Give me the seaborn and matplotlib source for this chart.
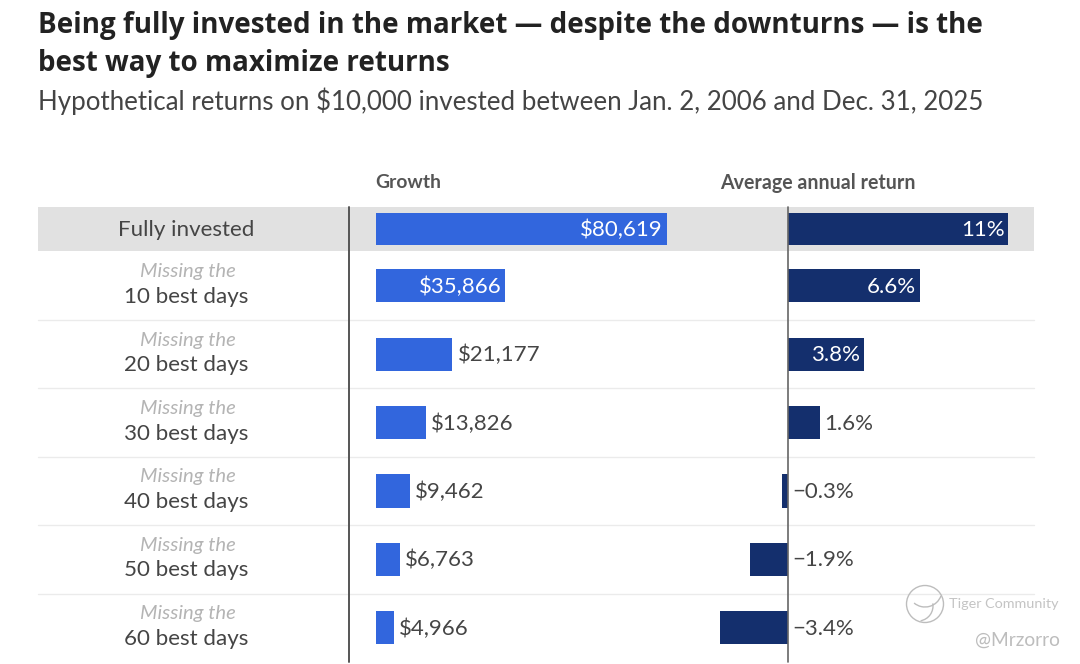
import matplotlib
matplotlib.use("Agg")
import matplotlib.pyplot as plt
from matplotlib.patches import Circle, Arc
import pandas as pd
import seaborn as sns

TITLE = ["Being fully invested in the market — despite the downturns — is the",
         "best way to maximize returns"]
SUBTITLE = "Hypothetical returns on $10,000 invested between Jan. 2, 2006 and Dec. 31, 2025"
HEAD_GROWTH = "Growth"
HEAD_RETURN = "Average annual return"
TOP_LABEL = "Fully invested"
MISSING = "Missing the"
days = ["10 best days", "20 best days", "30 best days", "40 best days", "50 best days", "60 best days"]
growth_all = 80619
returns_all = 11
growth = [35866, 21177, 13826, 9462, 6763, 4966]
returns = [6.6, 3.8, 1.6, -0.3, -1.9, -3.4]
return_labels_all = "11%"
return_labels = ["6.6%", "3.8%", "1.6%", "−0.3%", "−1.9%", "−3.4%"]

W, H = 1080, 664
BLUE, NAVY = "#3266DD", "#142F6D"
INK, SOFT = "#454545", "#B4B4B4"
FONT = "Lato"
sns.set_theme(style="white")
plt.rcParams["font.family"] = [FONT, "DejaVu Sans"]

fig = plt.figure(figsize=(W / 100, H / 100), dpi=100, facecolor="white")


def axes_px(x0, x1, y0, y1, **kw):
    return fig.add_axes([x0 / W, 1 - y1 / H, (x1 - x0) / W, (y1 - y0) / H], **kw)


bg = axes_px(0, W, 0, H)
bg.set_xlim(0, W)
bg.set_ylim(H, 0)
bg.axis("off")

bg.text(38, 26, TITLE[0], fontsize=19.95, fontweight="bold", family="Open Sans", color="#222222", va="center")
bg.text(38, 64, TITLE[1], fontsize=19.95, fontweight="bold", family="Open Sans", color="#222222", va="center")
bg.text(38, 101, SUBTITLE, fontsize=18.6, color="#444444", va="center")
bg.text(375, 183, HEAD_GROWTH, fontsize=13.9, fontweight="bold", color="#555555", va="center")
bg.text(720, 183, HEAD_RETURN, fontsize=14.1, fontweight="bold", color="#555555", va="center")

bg.fill_between([38, 1034], 207, 251, color="#E1E1E1", lw=0, zorder=0)
rest_top, rest_bot = 251.5, 662
step = (rest_bot - rest_top) / len(days)
for i in range(1, len(days)):
    bg.plot([38, 1034], [rest_top + i * step] * 2, color="#EBEBEB", lw=1, zorder=0)

bg.text(186.5, 230, TOP_LABEL, fontsize=16.1, color=INK, ha="center", va="center")
for i, d in enumerate(days):
    c = rest_top + (i + 0.5) * step
    bg.text(187.5, c - 14, MISSING, fontsize=14.6, style="italic", color=SOFT, ha="center", va="center")
    bg.text(186.5, c + 11, d, fontsize=16.1, color=INK, ha="center", va="center")


def draw(ax, labels, values, texts, color, width, inside, xlim, pad):
    df = pd.DataFrame({"row": labels, "value": values})
    sns.barplot(data=df, y="row", x="value", orient="h", color=color, saturation=1,
                width=width, linewidth=0, ax=ax)
    ax.set_xlim(*xlim)
    ax.axis("off")
    ax.patch.set_alpha(0)
    for i, (v, t) in enumerate(zip(values, texts)):
        if v >= inside:
            ax.annotate(t, (v, i), xytext=(-4, -1), textcoords="offset pixels", ha="right",
                        va="center", color="white", fontsize=16)
        else:
            ax.annotate(t, (max(v, 0), i), xytext=(pad, -1), textcoords="offset pixels", ha="left",
                        va="center", color=INK, fontsize=16)


g_all = [growth_all] + growth
r_all = [returns_all] + returns
g_lim = (0, max(g_all))
r_lim = (min(r_all), max(r_all))
g_text = [f"${v:,}" for v in growth]

ax = axes_px(376, 667, 207, 251, facecolor="none")
draw(ax, [TOP_LABEL], [growth_all], [f"${growth_all:,}"], BLUE, 0.73, 30000, g_lim, 5)
ax = axes_px(376, 667, rest_top, rest_bot, facecolor="none")
draw(ax, days, growth, g_text, BLUE, 0.484, 30000, g_lim, 5)
ax = axes_px(720, 1008.5, 207, 251, facecolor="none")
draw(ax, [TOP_LABEL], [returns_all], [return_labels_all], NAVY, 0.73, 3, r_lim, 4)
ax = axes_px(720, 1008.5, rest_top, rest_bot, facecolor="none")
draw(ax, days, returns, return_labels, NAVY, 0.484, 3, r_lim, 4)

top = axes_px(0, W, 0, H, facecolor="none")
top.set_xlim(0, W)
top.set_ylim(H, 0)
top.axis("off")
top.plot([349, 349], [207, 662], color="#555555", lw=1.4)
top.plot([788.3, 788.3], [207, 662], color="#666666", lw=1.2)

# watermark
wm = "#BDBDBD"
top.add_patch(Circle((925, 604), 18.5, fill=False, ec=wm, lw=1))
top.add_patch(Arc((925, 590), 34, 34, theta1=20, theta2=130, ec=wm, lw=1))
top.add_patch(Arc((918, 606), 30, 30, theta1=-10, theta2=80, ec=wm, lw=1))
top.text(949, 604, "Tiger Community", fontsize=10.4, color="#C4C4C4", va="center")
top.text(975, 640, "@Mrzorro", fontsize=13.8, color="#BDBDBD", va="center")

fig.savefig("out.png", dpi=100)
